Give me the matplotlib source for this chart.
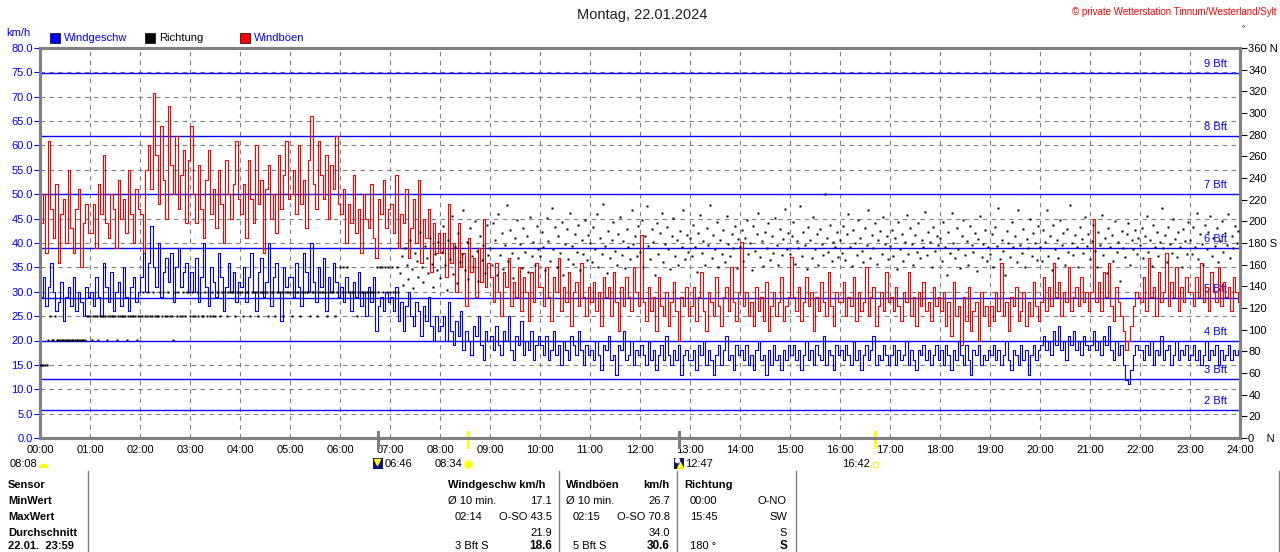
import numpy as np
import matplotlib
matplotlib.use("Agg")
import matplotlib.pyplot as plt
from matplotlib.patches import Rectangle, Wedge

plt.rcParams['font.family'] = ['Liberation Sans', 'DejaVu Sans']

W, H = 1280, 552

# Windgeschwindigkeit km/h, alle 3 Minuten (eine Zeile = eine Stunde)
wind_speed = [
    29, 33, 27, 31, 36, 30, 26, 28, 32, 24, 29, 31, 27, 33, 26, 30, 28, 25, 31, 29,
    30, 27, 33, 29, 25, 36, 31, 28, 34, 26, 30, 32, 27, 35, 29, 26, 31, 33, 28, 30,
    33, 38, 30, 36, 43.5, 35, 31, 40, 29, 34, 37, 32, 38, 28, 35, 39, 31, 34, 36, 30,
    34, 30, 37, 28, 33, 40, 31, 27, 35, 32, 29, 38, 33, 26, 31, 36, 30, 34, 28, 32,
    31, 35, 28, 33, 38, 30, 26, 34, 37, 29, 32, 40, 27, 33, 36, 30, 24, 35, 31, 33,
    33, 29, 36, 31, 27, 38, 34, 30, 40, 32, 28, 35, 31, 37, 26, 33, 30, 36, 32, 29,
    31, 28, 33, 30, 26, 32, 29, 34, 27, 30, 25, 31, 28, 33, 22, 27, 29, 26, 30, 28,
    29, 26, 31, 24, 28, 22, 27, 30, 25, 23, 28, 26, 21, 27, 24, 29, 23, 20, 25, 22,
    23, 25, 20, 28, 22, 19, 24, 21, 26, 18, 22, 20, 17, 23, 21, 25, 19, 16, 22, 20,
    21, 18, 23, 19, 17, 22, 20, 25, 18, 16, 21, 19, 24, 17, 20, 18, 22, 16, 19, 21,
    19, 17, 21, 16, 18, 22, 17, 19, 15, 20, 18, 16, 21, 19, 17, 22, 18, 15, 19, 17,
    18, 16, 20, 17, 14, 19, 18, 21, 16, 17, 13, 19, 18, 22, 16, 17, 20, 15, 18, 17,
    19, 17, 15, 20, 16, 18, 14, 17, 19, 16, 21, 17, 15, 18, 16, 19, 13, 17, 18, 16,
    16, 18, 14, 19, 17, 20, 15, 18, 16, 13, 17, 19, 15, 18, 21, 16, 17, 14, 19, 17,
    18, 16, 19, 15, 17, 14, 18, 20, 16, 17, 13, 18, 15, 19, 16, 17, 14, 18, 16, 19,
    17, 19, 16, 18, 14, 17, 20, 16, 18, 15, 19, 17, 16, 21, 15, 18, 17, 14, 19, 17,
    18, 16, 19, 17, 15, 20, 16, 18, 14, 17, 19, 16, 18, 21, 15, 17, 16, 19, 17, 15,
    17, 19, 15, 18, 16, 17, 20, 15, 18, 16, 14, 18, 17, 19, 16, 18, 15, 17, 19, 16,
    18, 15, 19, 17, 14, 18, 16, 20, 17, 15, 19, 16, 13, 18, 17, 19, 15, 17, 16, 18,
    17, 19, 16, 18, 15, 17, 20, 16, 14, 18, 17, 15, 19, 16, 18, 13, 17, 19, 16, 18,
    19, 21, 18, 20, 17, 22, 19, 23, 18, 20, 16, 21, 19, 22, 18, 20, 17, 21, 19, 18,
    19, 22, 18, 20, 17, 21, 19, 23, 18, 16, 20, 17, 19, 15, 12, 11, 14, 17, 19, 18,
    18, 16, 19, 17, 20, 15, 18, 17, 21, 16, 18, 19, 15, 17, 20, 16, 18, 17, 19, 16,
    17, 19, 16, 18, 15, 17, 20, 16, 18, 17, 19, 15, 18, 16, 17, 19, 16, 18, 17, 18,
]

# Windböen km/h, alle 3 Minuten
wind_gust = [
    44, 50, 38, 61, 47, 41, 52, 36, 46, 49, 40, 55, 43, 38, 47, 51, 35, 44, 48, 42,
    42, 48, 39, 52, 46, 58, 44, 41, 50, 47, 39, 53, 45, 49, 42, 55, 46, 40, 51, 47,
    46, 38, 55, 60, 51, 70.8, 58, 48, 64, 53, 45, 68, 56, 50, 62, 47, 54, 59, 44, 57,
    64, 50, 44, 56, 47, 41, 53, 59, 46, 51, 43, 55, 48, 40, 57, 50, 45, 52, 61, 49,
    46, 52, 41, 57, 49, 44, 60, 48, 53, 38, 51, 56, 45, 50, 42, 58, 47, 54, 61, 49,
    50, 55, 46, 60, 48, 53, 43, 57, 66, 52, 47, 61, 54, 49, 58, 45, 56, 51, 62, 48,
    46, 51, 40, 48, 44, 54, 42, 47, 38, 50, 45, 43, 52, 41, 37, 49, 46, 53, 43, 47,
    48, 42, 54, 39, 46, 44, 51, 37, 43, 49, 40, 53, 36, 45, 41, 47, 34, 44, 38, 42,
    38, 42, 33, 48, 36, 40, 30, 44, 35, 38, 27, 41, 34, 37, 29, 39, 32, 45, 31, 36,
    33, 28, 36, 30, 25, 34, 31, 37, 27, 32, 29, 35, 26, 33, 30, 24, 34, 28, 36, 31,
    31, 27, 35, 29, 24, 33, 30, 37, 26, 31, 28, 34, 23, 30, 32, 27, 36, 29, 25, 31,
    28, 32, 26, 30, 23, 33, 29, 31, 25, 34, 28, 22, 31, 27, 33, 29, 26, 35, 30, 27,
    41.6, 28, 24, 31, 26, 29, 22, 33, 27, 25, 30, 23, 28, 32, 26, 20, 29, 27, 31, 25,
    27, 31, 24, 29, 34, 26, 22, 30, 28, 25, 33, 27, 23, 29, 31, 26, 35, 28, 24, 30,
    40.3, 27, 30, 25, 28, 23, 31, 26, 29, 24, 32, 22, 27, 30, 25, 28, 33, 24, 27, 29,
    37.2, 29, 26, 31, 24, 28, 33, 27, 30, 22, 29, 26, 32, 28, 25, 34, 27, 23, 30, 28,
    28, 32, 25, 29, 27, 33, 24, 30, 26, 28, 35, 25, 29, 31, 23, 27, 30, 26, 34, 28,
    29, 26, 31, 27, 24, 30, 28, 34, 25, 29, 23, 30, 27, 32, 26, 28, 24, 31, 27, 29,
    26, 30, 23, 28, 21, 32, 25, 27, 19, 29, 24, 31, 22, 26, 28, 20, 30, 25, 27, 23,
    27, 24, 30, 26, 36, 25, 28, 22, 29, 27, 31, 24, 26, 30, 23, 28, 25, 32, 27, 24,
    28, 33, 26, 31, 27, 36, 29, 32, 25, 30, 28, 35, 26, 29, 31, 27, 33, 28, 30, 26,
    30, 45, 28, 32, 26, 34, 29, 36, 27, 24, 31, 28, 25, 22, 18, 20, 23, 27, 30, 29,
    28, 33, 26, 37, 29, 31, 25, 34, 28, 30, 38, 27, 32, 29, 35, 26, 31, 28, 33, 30,
    30, 27, 33, 29, 36, 28, 31, 26, 34, 30, 28, 35, 27, 32, 29, 31, 26, 33, 30, 28,
]

# Windrichtung Grad, alle 2 Minuten
wind_dir = [
    67.5, 67.5, 67.5, 67.5, 67.5, 90, 112.5, 90, 90, 112.5, 90, 90, 90, 90, 90, 90, 90, 90, 90, 90, 90, 90, 90, 90, 90, 90, 90, 90, 112.5, 112.5,
    112.5, 90, 112.5, 112.5, 112.5, 90, 112.5, 112.5, 112.5, 112.5, 90, 112.5, 112.5, 112.5, 112.5, 112.5, 90, 112.5, 112.5, 112.5, 112.5, 112.5, 90, 112.5, 112.5, 112.5, 112.5, 112.5, 90, 112.5,
    112.5, 112.5, 135, 112.5, 112.5, 135, 112.5, 112.5, 135, 112.5, 112.5, 112.5, 135, 112.5, 135, 112.5, 112.5, 135, 112.5, 112.5, 90, 135, 112.5, 135, 112.5, 112.5, 135, 112.5, 135, 135,
    112.5, 135, 112.5, 112.5, 135, 112.5, 135, 112.5, 112.5, 135, 112.5, 135, 112.5, 135, 112.5, 112.5, 135, 135, 112.5, 135, 135, 135, 112.5, 135, 135, 135, 135, 112.5, 135, 135,
    135, 135, 112.5, 135, 135, 135, 112.5, 135, 135, 135, 135, 112.5, 135, 135, 135, 135, 135, 112.5, 135, 135, 135, 112.5, 135, 135, 135, 135, 112.5, 135, 135, 135,
    135, 112.5, 135, 135, 135, 135, 112.5, 135, 135, 135, 135, 135, 112.5, 135, 135, 135, 112.5, 135, 135, 135, 135, 135, 112.5, 135, 135, 135, 135, 112.5, 135, 135,
    157.5, 135, 157.5, 135, 157.5, 135, 135, 135, 135, 135, 112.5, 135, 135, 135, 135, 135, 135, 135, 135, 135, 135, 135, 157.5, 135, 157.5, 157.5, 135, 157.5, 135, 157.5,
    135, 157.5, 135, 135, 157.5, 135, 152, 168, 141, 175, 160, 147, 183, 156, 138, 171, 163, 149, 190, 158, 144, 177, 166, 152, 185, 161, 139, 170, 155, 181,
    148, 172, 196, 160, 137, 183, 165, 205, 151, 176, 143, 189, 162, 170, 210, 155, 181, 147, 194, 168, 158, 200, 173, 145, 186, 164, 178, 152, 197, 169,
    175, 160, 198, 183, 150, 207, 169, 189, 156, 178, 215, 163, 192, 171, 148, 185, 201, 166, 179, 157, 194, 172, 186, 153, 204, 168, 181, 160, 196, 174,
    168, 190, 176, 155, 203, 182, 163, 212, 174, 195, 158, 186, 171, 199, 150, 179, 193, 165, 208, 177, 161, 188, 172, 197, 155, 183, 170, 201, 164, 187,
    180, 162, 195, 174, 207, 158, 185, 170, 216, 177, 152, 191, 166, 183, 199, 173, 160, 188, 204, 169, 182, 157, 193, 176, 165, 210, 179, 186, 168, 196,
    172, 201, 158, 186, 214, 177, 165, 193, 181, 150, 198, 170, 189, 208, 162, 179, 195, 174, 156, 186, 203, 168, 183, 160, 191, 176, 210, 165, 187, 172,
    185, 168, 197, 176, 153, 189, 206, 171, 182, 160, 194, 178, 215, 166, 187, 174, 199, 158, 183, 170, 192, 162, 205, 179, 168, 188, 175, 196, 157, 184,
    176, 192, 163, 185, 201, 170, 180, 155, 196, 173, 188, 208, 167, 182, 159, 190, 175, 198, 164, 186, 171, 203, 178, 160, 193, 169, 184, 211, 174, 189,
    170, 186, 199, 161, 182, 175, 214, 168, 190, 178, 156, 195, 183, 166, 204, 174, 188, 160, 193, 179, 169, 225, 185, 172, 197, 163, 181, 176, 190, 167,
    183, 171, 196, 164, 188, 207, 176, 159, 192, 180, 169, 201, 185, 173, 162, 194, 178, 210, 166, 187, 175, 198, 161, 183, 191, 170, 204, 179, 186, 165,
    177, 192, 168, 185, 156, 199, 174, 188, 163, 181, 206, 170, 194, 179, 160, 187, 172, 198, 166, 183, 176, 209, 169, 190, 181, 158, 195, 173, 186, 178,
    185, 163, 199, 176, 150, 190, 171, 208, 180, 166, 194, 174, 157, 186, 201, 169, 182, 160, 196, 178, 172, 189, 154, 184, 205, 167, 179, 192, 163, 176,
    170, 188, 158, 195, 177, 212, 165, 183, 173, 150, 191, 180, 167, 199, 176, 186, 162, 210, 178, 171, 193, 158, 184, 175, 202, 168, 189, 180, 164, 196,
    176, 163, 192, 181, 210, 168, 186, 155, 197, 174, 183, 166, 201, 178, 189, 160, 193, 172, 215, 180, 169, 187, 176, 158, 195, 184, 171, 204, 177, 188,
    165, 182, 197, 173, 158, 190, 178, 206, 169, 185, 152, 194, 176, 187, 163, 200, 172, 181, 145, 191, 175, 167, 188, 198, 160, 183, 174, 192, 170, 185,
    178, 194, 166, 186, 205, 172, 183, 159, 197, 176, 190, 168, 181, 212, 175, 187, 162, 195, 179, 171, 202, 184, 167, 190, 176, 158, 193, 182, 170, 199,
    183, 170, 195, 176, 208, 165, 188, 179, 160, 197, 174, 190, 205, 168, 185, 177, 194, 162, 182, 200, 172, 189, 178, 207, 166, 186, 175, 196, 180, 191,
]

# Beaufort-Grenzen km/h
bft_levels = [2, 3, 4, 5, 6, 7, 8, 9]
bft_kmh = [5.8, 12.2, 19.8, 28.8, 38.9, 50.0, 61.9, 74.9]

hour_labels = ["%02d:00" % h for h in range(25)]
dir_ticks = list(range(0, 361, 20))
dir_labels = [("360 N" if d == 360 else "180 S" if d == 180 else "0    N" if d == 0 else str(d)) for d in dir_ticks]

# Sonne / Mond
moon_times = [6 + 46 / 60, 12 + 47 / 60]
sun_times = [8 + 34 / 60, 16 + 42 / 60]

t_speed = np.arange(len(wind_speed)) * 3 / 60
t_dir = np.arange(len(wind_dir)) * 2 / 60

fig = plt.figure(figsize=(W / 100, H / 100), dpi=100)
ax = fig.add_axes([40 / W, (H - 438) / H, 1200 / W, 390 / H])
ax.set_xlim(0, 24)
ax.set_ylim(0, 80)

grey = '#808080'
for h in range(1, 24):
    ax.axvline(h, color=grey, lw=0.8, ls=(0, (4, 4)), zorder=1)
for v in range(5, 80, 5):
    ax.axhline(v, color=grey, lw=0.8, ls=(0, (4, 4)), zorder=1)
for n, b in zip(bft_levels, bft_kmh):
    ax.axhline(b, color='#0000ff', lw=1.0, zorder=2)
    ax.text(23.74, b + 1.85, "%d Bft" % n, ha='right', va='center', color='#0000ff', fontsize=8, zorder=2)

ax.plot(t_speed, wind_gust, color='#ff0000', lw=0.8, drawstyle='steps-post', zorder=3)
ax.plot(t_speed, wind_speed, color='#0000ff', lw=0.8, drawstyle='steps-post', zorder=4)

ax.set_yticks(range(0, 81, 5))
ax.set_yticklabels(["%.1f" % v for v in range(0, 81, 5)])
ax.tick_params(axis='y', colors='#0000ff', labelsize=8, length=4, width=0.8, pad=1)
ax.set_xticks(range(25))
ax.set_xticklabels(hour_labels)
ax.tick_params(axis='x', colors='black', labelsize=8, length=0, pad=5)
for s in ax.spines.values():
    s.set_color(grey)
    s.set_linewidth(2.2)

ax2 = ax.twinx()
ax2.set_ylim(0, 360)
ax2.plot(t_dir, wind_dir, 's', color='black', ms=1.7, mec='none', zorder=5)
ax2.set_yticks(dir_ticks)
ax2.set_yticklabels(dir_labels)
ax2.tick_params(axis='y', colors='black', labelsize=8, length=5, width=0.8, pad=1)
for s in ax2.spines.values():
    s.set_color(grey)
    s.set_linewidth(2.2)

# Markierungen unter der Zeitachse
xt = ax.get_xaxis_transform()
for t in moon_times:
    ax.plot([t, t], [-0.022, 0.015], color=grey, lw=2.2, transform=xt, clip_on=False, zorder=6)
for t in sun_times:
    ax.plot([t, t], [-0.022, 0.015], color='#ffff00', lw=2.0, transform=xt, clip_on=False, zorder=6)

# Overlay in Pixelkoordinaten für Texte und Tabelle
ov = fig.add_axes([0, 0, 1, 1])
ov.set_xlim(0, W)
ov.set_ylim(H, 0)
ov.axis('off')

ov.text(642, 15, "Montag, 22.01.2024", ha='center', va='center', fontsize=10.5, color='#202020')
ov.text(1277, 12, "\u00a9 private Wetterstation Tinnum/Westerland/Sylt", ha='right', va='center', fontsize=7, color='#ff0000')
ov.text(1243, 30, "\u00b0", ha='center', va='center', fontsize=6, color='black')
ov.text(6, 33, "km/h", ha='left', va='center', fontsize=8, color='#0000ff')

legend = [("Windgeschw", '#0000ff', '#0000ff', 50), ("Richtung", 'black', 'black', 145), ("Windböen", '#ff0000', '#0000ff', 240)]
for name, col, tcol, x in legend:
    ov.add_patch(Rectangle((x, 33), 10, 10, facecolor=col, edgecolor='black', lw=0.5))
    ov.text(x + 14, 38, name, ha='left', va='center', fontsize=8, color=tcol)

# Zeiten Sonne/Mond
ov.text(10, 464, "08:08", ha='left', va='center', fontsize=8)
ov.add_patch(Wedge((44, 468), 4.5, 180, 360, facecolor='#ffff00', edgecolor='none'))
ov.add_patch(Rectangle((373, 458), 10, 11, facecolor='#101080', edgecolor='none'))
ov.plot(377, 462, marker='v', color='#ffff00', ms=4)
ov.text(385, 464, "06:46", ha='left', va='center', fontsize=8)
ov.text(435, 464, "08:34", ha='left', va='center', fontsize=8)
ov.plot(468, 464, marker='o', color='#ffff00', ms=6, mec='#ffff80')
ov.add_patch(Rectangle((674, 458), 10, 11, facecolor='#101080', edgecolor='none'))
ov.plot(680, 465, marker='^', color='#ffff00', ms=4)
ov.plot(677, 460, marker='o', color='white', ms=3)
ov.text(685, 464, "12:47", ha='left', va='center', fontsize=8)
ov.text(842, 464, "16:42", ha='left', va='center', fontsize=8)
ov.add_patch(Rectangle((873, 462), 4.5, 4.5, facecolor='none', edgecolor='#ffff00', lw=0.8))

# Tabelle
row_y = [485, 501, 517, 533, 546]
for x in [88, 559, 677, 796, 1279]:
    ov.plot([x, x], [471, 552], color=grey, lw=1.0)

first_col = ["Sensor", "MinWert", "MaxWert", "Durchschnitt", "22.01.  23:59"]
for y, s in zip(row_y, first_col):
    ov.text(8, y, s, ha='left', va='center', fontsize=8, fontweight='bold')

ov.text(448, row_y[0], "Windgeschw km/h", ha='left', va='center', fontsize=8, fontweight='bold')
ov.text(448, row_y[1], "\u00d8 10 min.", ha='left', va='center', fontsize=8)
ov.text(552, row_y[1], "17.1", ha='right', va='center', fontsize=8)
ov.text(455, row_y[2], "02:14", ha='left', va='center', fontsize=8)
ov.text(552, row_y[2], "O-SO 43.5", ha='right', va='center', fontsize=8)
ov.text(552, row_y[3], "21.9", ha='right', va='center', fontsize=8)
ov.text(455, row_y[4], "3 Bft S", ha='left', va='center', fontsize=8)
ov.text(552, row_y[4], "18.6", ha='right', va='center', fontsize=8.5, fontweight='bold')

ov.text(566, row_y[0], "Windböen", ha='left', va='center', fontsize=8, fontweight='bold')
ov.text(670, row_y[0], "km/h", ha='right', va='center', fontsize=8, fontweight='bold')
ov.text(566, row_y[1], "\u00d8 10 min.", ha='left', va='center', fontsize=8)
ov.text(670, row_y[1], "26.7", ha='right', va='center', fontsize=8)
ov.text(573, row_y[2], "02:15", ha='left', va='center', fontsize=8)
ov.text(670, row_y[2], "O-SO 70.8", ha='right', va='center', fontsize=8)
ov.text(670, row_y[3], "34.0", ha='right', va='center', fontsize=8)
ov.text(573, row_y[4], "5 Bft S", ha='left', va='center', fontsize=8)
ov.text(670, row_y[4], "30.6", ha='right', va='center', fontsize=8.5, fontweight='bold')

ov.text(684, row_y[0], "Richtung", ha='left', va='center', fontsize=8, fontweight='bold')
ov.text(690, row_y[1], "00:00", ha='left', va='center', fontsize=8)
ov.text(787, row_y[1], "O-NO", ha='right', va='center', fontsize=8)
ov.text(690, row_y[2], "15:45", ha='left', va='center', fontsize=8)
ov.text(787, row_y[2], "SW", ha='right', va='center', fontsize=8)
ov.text(787, row_y[3], "S", ha='right', va='center', fontsize=8)
ov.text(690, row_y[4], "180 \u00b0", ha='left', va='center', fontsize=8)
ov.text(787, row_y[4], "S", ha='right', va='center', fontsize=8.5, fontweight='bold')

fig.savefig("out.png", dpi=100)
